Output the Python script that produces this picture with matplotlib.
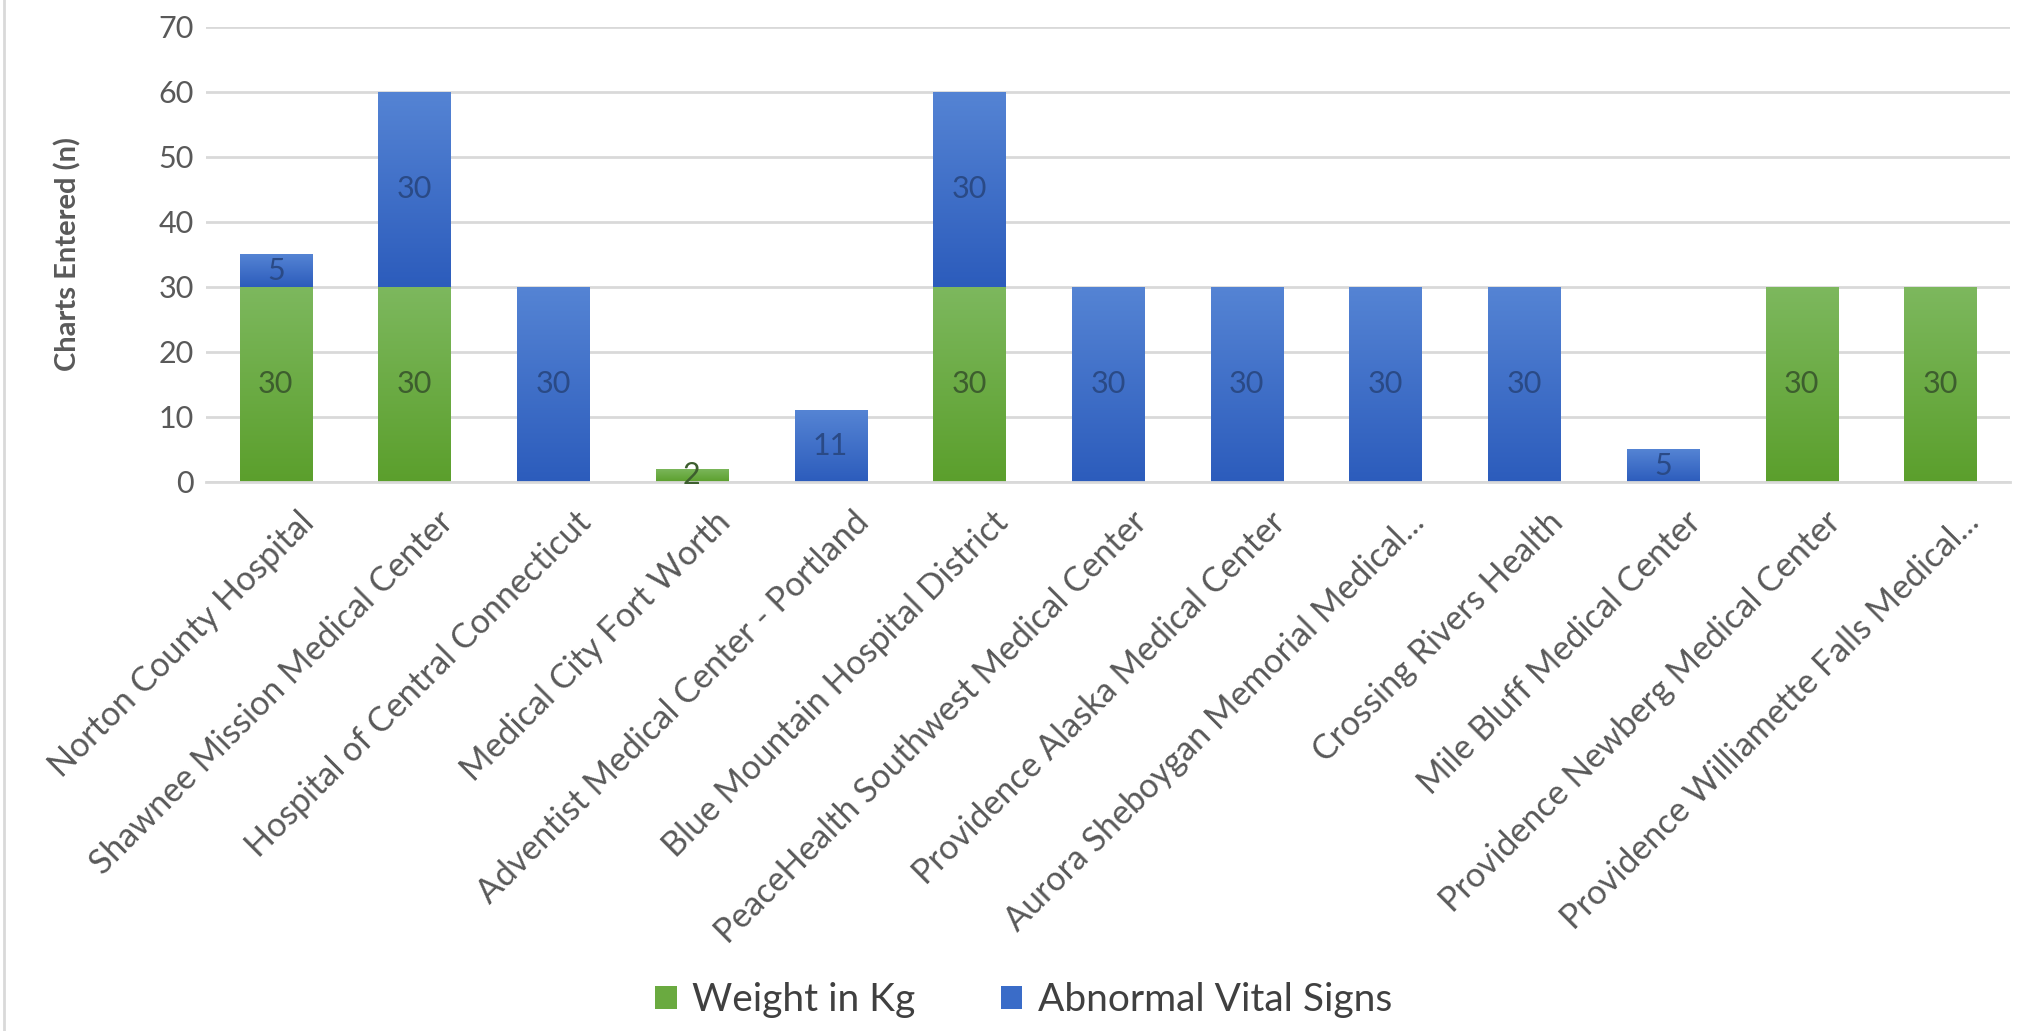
import numpy as np
import matplotlib
matplotlib.use("Agg")
import matplotlib.pyplot as plt
from matplotlib.colors import LinearSegmentedColormap
from matplotlib.patches import Patch
from matplotlib.lines import Line2D
from matplotlib.transforms import ScaledTranslation

hospitals = [
    "Norton County Hospital",
    "Shawnee Mission Medical Center",
    "Hospital of Central Connecticut",
    "Medical City Fort Worth",
    "Adventist Medical Center - Portland",
    "Blue Mountain Hospital District",
    "PeaceHealth Southwest Medical Center",
    "Providence Alaska Medical Center",
    "Aurora Sheboygan Memorial Medical...",
    "Crossing Rivers Health",
    "Mile Bluff Medical Center",
    "Providence Newberg Medical Center",
    "Providence Williamette Falls Medical...",
]
weight_kg = [30, 30, 0, 2, 0, 30, 0, 0, 0, 0, 0, 30, 30]
abnormal_vitals = [5, 30, 30, 0, 11, 30, 30, 30, 30, 30, 5, 0, 0]
y_ticks = [0, 10, 20, 30, 40, 50, 60, 70]

plt.rcParams['font.family'] = ['Lato', 'DejaVu Sans']

green_map = LinearSegmentedColormap.from_list("g", ["#5b9f2c", "#7db85e"])
blue_map = LinearSegmentedColormap.from_list("b", ["#2c5cbc", "#5584d4"])

fig = plt.figure(figsize=(20.23, 10.31), dpi=100)
ax = fig.add_axes([0.102, 0.5325, 0.8915, 0.4415])

x = np.arange(len(hospitals))
w = 0.52

# stacked bars, then paint a vertical gradient clipped to each bar
bars_g = ax.bar(x, weight_kg, w, color="#6aaa40", label="Weight in Kg", zorder=2)
bars_b = ax.bar(x, abnormal_vitals, w, bottom=weight_kg, color="#3a6cc8",
                label="Abnormal Vital Signs", zorder=2)

grad = np.linspace(0, 1, 256).reshape(-1, 1)
for bars, cmap in [(bars_g, green_map), (bars_b, blue_map)]:
    for b in bars:
        h = b.get_height()
        if h <= 0:
            continue
        x0, y0 = b.get_x(), b.get_y()
        im = ax.imshow(grad, cmap=cmap, origin="lower", aspect="auto",
                       extent=[x0, x0 + b.get_width(), y0, y0 + h], zorder=2.5)
        im.set_clip_path(b)

# data labels
for i in x:
    if weight_kg[i] > 0:
        ax.text(i, weight_kg[i] / 2, str(weight_kg[i]), ha="center", va="center",
                fontsize=22, color="#3d5e2e", zorder=4)
    if abnormal_vitals[i] > 0:
        ax.text(i, weight_kg[i] + abnormal_vitals[i] / 2, str(abnormal_vitals[i]),
                ha="center", va="center", fontsize=22, color="#2a4a86", zorder=4)

ax.set_xlim(-0.5, len(hospitals) - 0.5)
ax.set_ylim(0, 70)
ax.set_yticks(y_ticks)
ax.yaxis.grid(True, color="#d9d9d9", linewidth=2, zorder=0)
ax.set_axisbelow(True)
for s in ["top", "right", "left"]:
    ax.spines[s].set_visible(False)
ax.spines["bottom"].set_color("#d9d9d9")
ax.spines["bottom"].set_linewidth(2)
ax.tick_params(axis="y", length=0, pad=9, labelsize=22, labelcolor="#595959")
ax.tick_params(axis="x", length=0, pad=0, labelsize=24.5, labelcolor="#595959")
ax.set_xticks(x)
ax.set_xticklabels(hospitals, rotation=45, ha="right", va="top",
                   rotation_mode="anchor")
shift = ScaledTranslation(0.22, -0.24, fig.dpi_scale_trans)
for lab in ax.get_xticklabels():
    lab.set_transform(lab.get_transform() + shift)

ax.set_ylabel("Charts Entered (n)", fontsize=21, fontweight="bold", color="#595959")
ax.yaxis.set_label_coords(-0.077, 0.5)
ax.yaxis.label.set_va("center")

handles = [Patch(facecolor="#6aaa40"), Patch(facecolor="#3a6cc8")]
fig.legend(handles, ["Weight in Kg", "Abnormal Vital Signs"], loc="center",
           bbox_to_anchor=(0.506, 0.03), ncol=2, frameon=False, fontsize=28,
           labelcolor="#404040", handlelength=0.55, handleheight=0.55,
           handletextpad=0.4, columnspacing=2.2)

fig.add_artist(Line2D([0.002, 0.002], [0, 1], transform=fig.transFigure,
                      color="#d9d9d9", linewidth=2))

fig.savefig("out.png", dpi=100, facecolor="white")
